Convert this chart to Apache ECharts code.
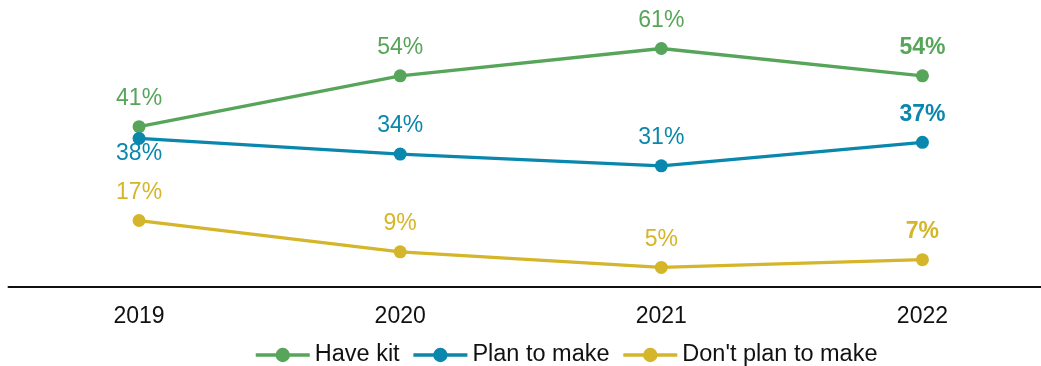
<!DOCTYPE html>
<html><head><meta charset="utf-8">
<script src="https://cdn.jsdelivr.net/npm/echarts@6/dist/echarts.min.js"></script>
<style>html,body{margin:0;padding:0;background:#fff;overflow:hidden}#c{width:1053px;height:366px}</style>
</head><body><div id="c"></div>
<script>
const years = ['2019', '2020', '2021', '2022'];
const haveKit = [41, 54, 61, 54];
const planToMake = [38, 34, 31, 37];
const dontPlan = [17, 9, 5, 7];
const seriesNames = ['Have kit', 'Plan to make', "Don't plan to make"];
const colors = ['#57a55a', '#0a87ad', '#d5b52a'];

function items(vals, color, belowIdx) {
  return vals.map((v, i) => ({
    value: v,
    label: {
      show: true,
      position: i === belowIdx ? 'bottom' : 'top',
      distance: i === belowIdx ? -3 : 10,
      fontWeight: i === vals.length - 1 ? 'bold' : 'normal',
      color: color,
      fontSize: 23,
      fontFamily: 'Liberation Sans, Arial, sans-serif',
      formatter: '{c}%'
    }
  }));
}
const all = [haveKit, planToMake, dontPlan];
const chart = echarts.init(document.getElementById('c'));
chart.setOption({
  animation: false,
  textStyle: {fontFamily: 'Liberation Sans, Arial, sans-serif'},
  grid: {left: 8.5, top: 0, right: 0, bottom: 79, containLabel: false},
  xAxis: {
    type: 'category', data: years, boundaryGap: true,
    axisLine: {lineStyle: {color: '#111', width: 2}},
    axisTick: {show: false},
    axisLabel: {color: '#111', fontSize: 23, margin: 18}
  },
  yAxis: {type: 'value', min: 0, max: 73.4, show: false, splitLine: {show: false}},
  legend: {
    data: seriesNames, left: 249, top: 338, itemWidth: 54, itemHeight: 18, itemGap: 12,
    lineStyle: {width: 3.5},
    textStyle: {fontSize: 23.5, color: '#111'}
  },
  series: all.map((vals, k) => ({
    name: seriesNames[k], type: 'line', data: items(vals, colors[k], k === 1 ? 0 : -1),
    color: colors[k], symbol: 'circle', symbolSize: 13,
    lineStyle: {width: 3.3, color: colors[k]},
    itemStyle: {color: colors[k]}
  }))
});
</script></body></html>
